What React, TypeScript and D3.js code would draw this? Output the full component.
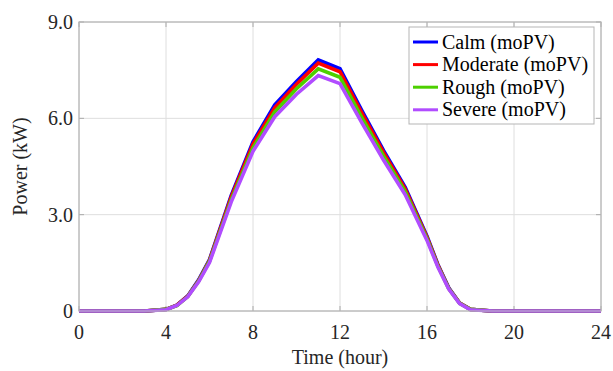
import React from "react";
import * as d3 from "d3";

const hours = [0, 1, 2, 3, 4, 4.5, 5, 5.5, 6, 7, 8, 9, 10, 11, 12, 13, 14, 15, 16, 16.5, 17, 17.5, 18, 19, 20, 21, 22, 23, 24];
const calm = [0, 0, 0, 0, 0.05, 0.18, 0.47, 0.97, 1.6, 3.6, 5.27, 6.42, 7.15, 7.82, 7.55, 6.25, 5.0, 3.85, 2.33, 1.45, 0.72, 0.25, 0.05, 0, 0, 0, 0, 0, 0];
const moderate = [0, 0, 0, 0, 0.05, 0.18, 0.46, 0.95, 1.58, 3.55, 5.2, 6.33, 7.06, 7.72, 7.45, 6.17, 4.94, 3.8, 2.3, 1.43, 0.71, 0.25, 0.05, 0, 0, 0, 0, 0, 0];
const rough = [0, 0, 0, 0, 0.05, 0.17, 0.45, 0.93, 1.55, 3.47, 5.08, 6.2, 6.92, 7.54, 7.28, 6.03, 4.83, 3.72, 2.25, 1.4, 0.7, 0.24, 0.05, 0, 0, 0, 0, 0, 0];
const severe = [0, 0, 0, 0, 0.04, 0.17, 0.44, 0.91, 1.51, 3.4, 4.97, 6.05, 6.75, 7.33, 7.08, 5.87, 4.7, 3.62, 2.2, 1.37, 0.68, 0.23, 0.04, 0, 0, 0, 0, 0, 0];

const seriesNames = ["Calm (moPV)", "Moderate (moPV)", "Rough (moPV)", "Severe (moPV)"];
const seriesColors = ["#0000ff", "#ff0000", "#4dd000", "#b14cff"];
const seriesValues = [calm, moderate, rough, severe];

const xTicks = [0, 4, 8, 12, 16, 20, 24];
const yTicks = [0, 3, 6, 9];
const yTickLabels = ["0", "3.0", "6.0", "9.0"];

const W = 613;
const H = 371;
const left = 79;
const right = 601;
const top = 22;
const bottom = 311;
const font = "Liberation Serif, Times New Roman, serif";

export default function App() {
  const x = d3.scaleLinear().domain([0, 24]).range([left, right]);
  const y = d3.scaleLinear().domain([0, 9]).range([bottom, top]);
  const line = d3
    .line<number>()
    .x((_, i) => x(hours[i]))
    .y((d) => y(d));

  const legX = 409;
  const legY = 27;
  const legW = 185;
  const legH = 97;
  const rowH = 22.6;
  const txt = { fontFamily: font };

  return (
    <svg
      width={W}
      height={H}
      style={{ position: "absolute", left: 0, top: 0, background: "#fff", fontFamily: font }}
    >
      <rect x={0} y={0} width={W} height={H} fill="#fff" />
      {xTicks.map((t) => (
        <line key={"gx" + t} x1={x(t)} x2={x(t)} y1={top} y2={bottom} stroke="#dedede" strokeWidth={1} />
      ))}
      {yTicks.map((t) => (
        <line key={"gy" + t} x1={left} x2={right} y1={y(t)} y2={y(t)} stroke="#dedede" strokeWidth={1} />
      ))}
      {xTicks.map((t) => (
        <g key={"tx" + t}>
          <line x1={x(t)} x2={x(t)} y1={bottom} y2={bottom - 5} stroke="#aaa" />
          <line x1={x(t)} x2={x(t)} y1={top} y2={top + 5} stroke="#aaa" />
        </g>
      ))}
      {yTicks.map((t) => (
        <g key={"ty" + t}>
          <line x1={left} x2={left + 5} y1={y(t)} y2={y(t)} stroke="#aaa" />
          <line x1={right} x2={right - 5} y1={y(t)} y2={y(t)} stroke="#aaa" />
        </g>
      ))}
      {seriesValues.map((vals, i) => (
        <path
          key={seriesNames[i]}
          d={line(vals) || ""}
          fill="none"
          stroke={seriesColors[i]}
          strokeWidth={3.6}
          strokeLinejoin="miter"
        />
      ))}
      <rect x={left} y={top} width={right - left} height={bottom - top} fill="none" stroke="#b5b5b5" strokeWidth={1.2} />
      {xTicks.map((t) => (
        <text key={"lx" + t} x={x(t)} y={339} textAnchor="middle" fontSize={20} fill="#262626" style={txt}>
          {t}
        </text>
      ))}
      {yTicks.map((t, i) => (
        <text key={"ly" + t} x={73} y={y(t) + 7} textAnchor="end" fontSize={20} fill="#262626" style={txt}>
          {yTickLabels[i]}
        </text>
      ))}
      <text x={(left + right) / 2} y={364} textAnchor="middle" fontSize={20} fill="#262626" style={txt}>
        Time (hour)
      </text>
      <text
        transform={`translate(27,${(top + bottom) / 2}) rotate(-90)`}
        textAnchor="middle"
        fontSize={20}
        fill="#262626"
        style={txt}
      >
        Power (kW)
      </text>
      <rect x={legX} y={legY} width={legW} height={legH} fill="#fff" stroke="#b5b5b5" strokeWidth={1} />
      {seriesNames.map((n, i) => {
        const cy = legY + 15 + i * rowH;
        return (
          <g key={"leg" + n}>
            <line x1={413} x2={438} y1={cy} y2={cy} stroke={seriesColors[i]} strokeWidth={3} />
            <text x={442} y={cy + 6.5} fontSize={20} fill="#000" style={txt}>
              {n}
            </text>
          </g>
        );
      })}
    </svg>
  );
}
